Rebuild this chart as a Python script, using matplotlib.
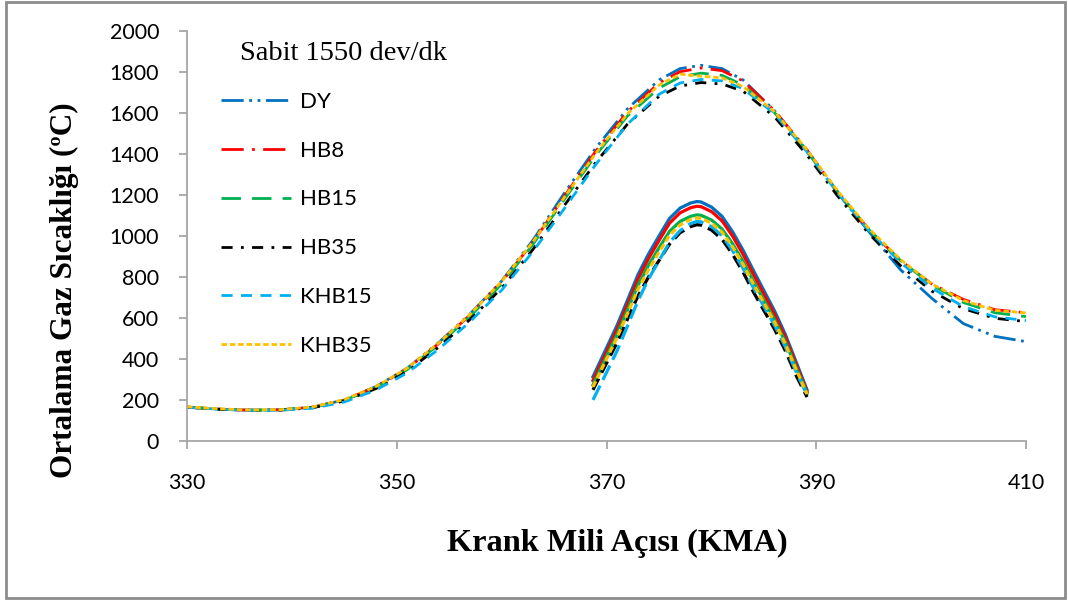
import matplotlib.pyplot as plt
from matplotlib.patches import Rectangle

# crank angle grid for the main gas temperature curves
kma = [330, 333, 336, 339, 342, 345, 348, 351, 354, 357, 360, 363, 366, 369, 372, 375,
       377, 379, 381, 383, 386, 389, 392, 395, 398, 401, 404, 407, 410]

dy = [165, 155, 150, 152, 165, 200, 265, 355, 480, 620, 780, 980, 1210, 1430, 1620, 1760,
      1815, 1831, 1815, 1760, 1610, 1420, 1210, 1020, 835, 695, 572, 510, 484]
hb8 = [165, 155, 150, 152, 165, 200, 263, 352, 475, 615, 775, 970, 1195, 1415, 1605, 1745,
       1800, 1818, 1805, 1755, 1610, 1425, 1215, 1030, 880, 765, 690, 640, 625]
hb15 = [165, 155, 150, 152, 164, 198, 260, 348, 470, 608, 765, 960, 1180, 1395, 1585, 1720,
        1775, 1793, 1782, 1735, 1600, 1420, 1215, 1030, 880, 760, 675, 625, 606]
hb35 = [165, 155, 150, 151, 162, 195, 255, 340, 458, 593, 745, 935, 1150, 1360, 1545, 1680,
        1730, 1747, 1740, 1705, 1580, 1400, 1195, 1010, 855, 730, 645, 598, 582]
khb15 = [165, 155, 149, 150, 160, 190, 248, 332, 448, 582, 735, 925, 1135, 1350, 1545, 1690,
         1745, 1762, 1755, 1718, 1595, 1415, 1210, 1025, 870, 745, 655, 605, 587]
khb35 = [167, 157, 151, 153, 166, 202, 265, 355, 478, 618, 778, 972, 1190, 1405, 1595, 1735,
         1788, 1778, 1770, 1728, 1605, 1425, 1220, 1035, 885, 765, 685, 637, 624]

# inner peak curves
kma_in = [368.7, 370, 371, 372, 373, 374, 375, 376, 377, 378, 378.6, 379, 380, 381, 382,
          383, 384, 385, 386, 387, 388, 389.1]
dy_in = [313, 455, 564, 688, 812, 912, 1000, 1085, 1135, 1160, 1167, 1165, 1140, 1095, 1020,
         930, 830, 732, 634, 523, 393, 249]
hb8_in = [295, 435, 544, 667, 790, 890, 978, 1062, 1112, 1137, 1144, 1142, 1118, 1073, 999,
          910, 810, 714, 617, 508, 381, 240]
hb15_in = [273, 413, 520, 640, 760, 857, 942, 1022, 1070, 1095, 1102, 1100, 1077, 1033, 962,
           876, 778, 685, 592, 487, 365, 232]
hb35_in = [249, 380, 480, 595, 708, 800, 880, 960, 1015, 1045, 1054, 1052, 1028, 983, 910,
           823, 725, 635, 545, 443, 325, 214]
khb15_in = [200, 335, 440, 562, 685, 790, 880, 968, 1025, 1060, 1070, 1068, 1045, 1000, 928,
            842, 746, 655, 564, 462, 344, 224]
khb35_in = [263, 400, 505, 622, 740, 836, 920, 1003, 1053, 1080, 1087, 1085, 1062, 1018, 947,
            861, 764, 672, 580, 476, 356, 228]

names = ['DY', 'HB8', 'HB15', 'HB35', 'KHB15', 'KHB35']
colors = ['#0070C0', '#FF0000', '#00B050', '#000000', '#00B0F0', '#FFC000']
styles = [(0, (8, 2, 1, 2, 1, 2)), (0, (8, 3, 1, 3)), (0, (7, 4)),
          (0, (4, 3, 1, 3)), (0, (4, 3)), (0, (2, 1))]
inner_styles = ['-', '-', '-', (0, (4, 2)), (0, (5, 2)), (0, (2, 1))]

main = [dy, hb8, hb15, hb35, khb15, khb35]
inner = [dy_in, hb8_in, hb15_in, hb35_in, khb15_in, khb35_in]

fig = plt.figure(figsize=(10.68, 6.07), dpi=100)
ax = fig.add_axes([0.175, 0.2735, 0.786, 0.676])

for name, col, ls, ys in zip(names, colors, styles, main):
    ax.plot(kma, ys, color=col, linestyle=ls, linewidth=2, label=name)
for col, ls, ys in zip(colors, inner_styles, inner):
    ax.plot(kma_in, ys, color=col, linestyle=ls, linewidth=2.3)

ax.set_xlim(330, 410)
ax.set_ylim(0, 2000)
ax.set_xticks([330, 350, 370, 390, 410])
ax.set_yticks(range(0, 2001, 200))
for s in ['top', 'right']:
    ax.spines[s].set_visible(False)
for s in ['left', 'bottom']:
    ax.spines[s].set_color('#A6A6A6')
    ax.spines[s].set_linewidth(1.3)
ax.tick_params(axis='both', colors='#A6A6A6', labelcolor='black', labelsize=15.5,
               length=6, width=1.3, direction='out')
ax.tick_params(axis='y', pad=14)
ax.tick_params(axis='x', pad=17)
for lab in ax.get_xticklabels() + ax.get_yticklabels():
    lab.set_family('Lato')

ax.set_xlabel('Krank Mili Açısı (KMA)', family='Liberation Serif', fontweight='bold',
              fontsize=23.3)
ax.set_ylabel('Ortalama Gaz Sıcaklığı (ºC)', family='Liberation Serif', fontweight='bold',
              fontsize=22.5)
ax.xaxis.set_label_coords(0.5125, -0.215)
ax.yaxis.set_label_coords(-0.128, 0.368)

ax.text(0.063, 0.975, 'Sabit 1550 dev/dk', transform=ax.transAxes, family='Liberation Serif',
        fontsize=20.5, va='top')
leg = ax.legend(loc='upper left', bbox_to_anchor=(0.017, 0.9), frameon=False,
                handlelength=3.15, labelspacing=1.3, prop={'family': 'Lato', 'size': 16},
                handletextpad=0.4)

fig.patches.append(Rectangle((0.006, 0.015), 0.991, 0.982, transform=fig.transFigure,
                             fill=False, edgecolor='#8C8C8C', linewidth=2))

fig.savefig('out.png', dpi=100)
